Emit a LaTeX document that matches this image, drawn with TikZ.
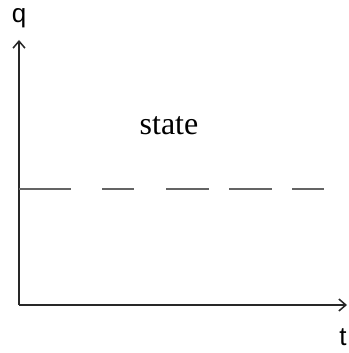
\documentclass[tikz,border=0pt]{standalone}
\usepackage{fontspec}
\setmainfont{Liberation Serif}
\newfontfamily\axisfont{Liberation Sans}
\usetikzlibrary{arrows.meta}
\definecolor{axisgray}{RGB}{40, 40, 40}
\definecolor{dashgray}{RGB}{100, 100, 100}

\begin{document}
\begin{tikzpicture}[x=1pt, y=-1pt,
    axis/.style={draw=axisgray, line width=1.5pt, -{Straight Barb[length=7pt, width=12pt]}},
    axislabel/.style={font=\axisfont\fontsize{26}{26}\selectfont, inner sep=0pt}]
    \useasboundingbox (0,0) rectangle (348,353);
    
    % Axes
    \coordinate (origin) at (19, 305);
    \coordinate (qend) at (19, 40);
    \coordinate (tend) at (347, 305);
    \draw[axis] (origin) -- (qend);
    \draw[axis] (origin) -- (tend);
    
    % Axis labels
    \node[axislabel] (qlabel) at (19, 18) {q};
    \node[axislabel] (tlabel) at (343, 337) {t};
    
    % Level line
    \coordinate (levelstart) at (19, 189);
    \coordinate (levelend) at (324, 189);
    \draw[dashgray, line width=1.5pt,
          dash pattern=on 52pt off 31pt on 32pt off 32pt on 43pt off 20pt on 43pt off 20pt on 32pt off 100pt]
        (levelstart) -- (levelend);
    
    % State text
    \node[font=\fontsize{32}{32}\selectfont, inner sep=0pt] (statelabel) at (169, 126) {state};
\end{tikzpicture}
\end{document}
